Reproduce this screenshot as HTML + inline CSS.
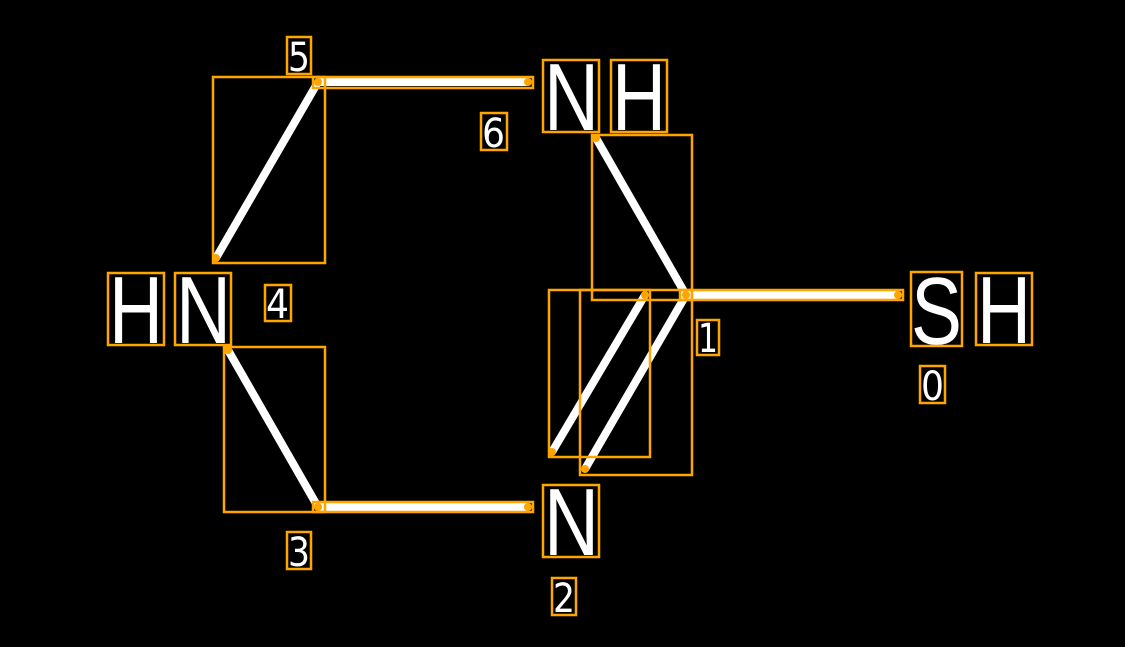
<!DOCTYPE html>
<html><head><meta charset="utf-8"><style>html,body{margin:0;padding:0;background:#000}svg{display:block}</style></head>
<body>
<svg width="1125" height="647" viewBox="0 0 1125 647" xmlns="http://www.w3.org/2000/svg">
<rect width="1125" height="647" fill="#000"/>
<g stroke="#fff" stroke-width="8" stroke-linecap="butt">
<line x1="318" y1="82" x2="528" y2="82"/>
<line x1="216" y1="258" x2="318" y2="82"/>
<line x1="228" y1="350" x2="318" y2="507"/>
<line x1="318" y1="507" x2="528" y2="507"/>
<line x1="596" y1="138" x2="686" y2="295"/>
<line x1="552" y1="452" x2="645" y2="295"/>
<line x1="585" y1="469" x2="686" y2="295"/>
<line x1="686" y1="295" x2="898" y2="295"/>
</g>
<g fill="#fff" font-family="Liberation Sans, DejaVu Sans, sans-serif">
<g font-size="96">
<text x="544" y="130" textLength="55" lengthAdjust="spacingAndGlyphs">N</text>
<text x="612" y="130" textLength="54" lengthAdjust="spacingAndGlyphs">H</text>
<text x="109" y="343" textLength="54" lengthAdjust="spacingAndGlyphs">H</text>
<text x="176" y="343" textLength="55" lengthAdjust="spacingAndGlyphs">N</text>
<text x="911" y="344" textLength="51" lengthAdjust="spacingAndGlyphs">S</text>
<text x="977" y="343" textLength="54" lengthAdjust="spacingAndGlyphs">H</text>
<text x="544" y="555" textLength="55" lengthAdjust="spacingAndGlyphs">N</text>
</g>
<g font-size="40" font-family="DejaVu Sans, sans-serif">
<text x="288" y="71" textLength="22" lengthAdjust="spacingAndGlyphs">5</text>
<text x="482" y="147" textLength="23" lengthAdjust="spacingAndGlyphs">6</text>
<text x="266" y="318" textLength="23" lengthAdjust="spacingAndGlyphs">4</text>
<text x="698" y="352" textLength="20" lengthAdjust="spacingAndGlyphs">1</text>
<text x="921" y="400" textLength="23" lengthAdjust="spacingAndGlyphs">0</text>
<text x="288" y="566" textLength="22" lengthAdjust="spacingAndGlyphs">3</text>
<text x="553" y="612" textLength="22" lengthAdjust="spacingAndGlyphs">2</text>
</g>
</g>
<g fill="none" stroke="#FFA500" stroke-width="2.5">
<rect x="313" y="77" width="220" height="11"/>
<rect x="213" y="77" width="112" height="186"/>
<rect x="224" y="347" width="101" height="165"/>
<rect x="313" y="502" width="220" height="10"/>
<rect x="592" y="135" width="100" height="165"/>
<rect x="549" y="290" width="101" height="167"/>
<rect x="580" y="290" width="112" height="185"/>
<rect x="680" y="290" width="223" height="10"/>
<rect x="543" y="60" width="56" height="72"/>
<rect x="611" y="60" width="56" height="72"/>
<rect x="108" y="273" width="56" height="72"/>
<rect x="175" y="273" width="56" height="72"/>
<rect x="911" y="272" width="51" height="74"/>
<rect x="976" y="273" width="56" height="72"/>
<rect x="543" y="485" width="56" height="72"/>
<rect x="287" y="37" width="24" height="37"/>
<rect x="481" y="113" width="26" height="37"/>
<rect x="265" y="285" width="26" height="36"/>
<rect x="697" y="320" width="22" height="35"/>
<rect x="920" y="366" width="25" height="37"/>
<rect x="287" y="532" width="24" height="37"/>
<rect x="552" y="578" width="24" height="37"/>
</g>
<g fill="#FFA500">
<circle cx="318" cy="82" r="4"/><circle cx="528" cy="82" r="4"/>
<circle cx="216" cy="258" r="4"/><circle cx="228" cy="350" r="4"/>
<circle cx="318" cy="507" r="4"/><circle cx="528" cy="507" r="4"/>
<circle cx="596" cy="138" r="4"/><circle cx="686" cy="295" r="4"/>
<circle cx="552" cy="452" r="4"/><circle cx="645" cy="295" r="4"/>
<circle cx="585" cy="469" r="4"/><circle cx="898" cy="295" r="4"/>
</g>
</svg>
</body></html>
